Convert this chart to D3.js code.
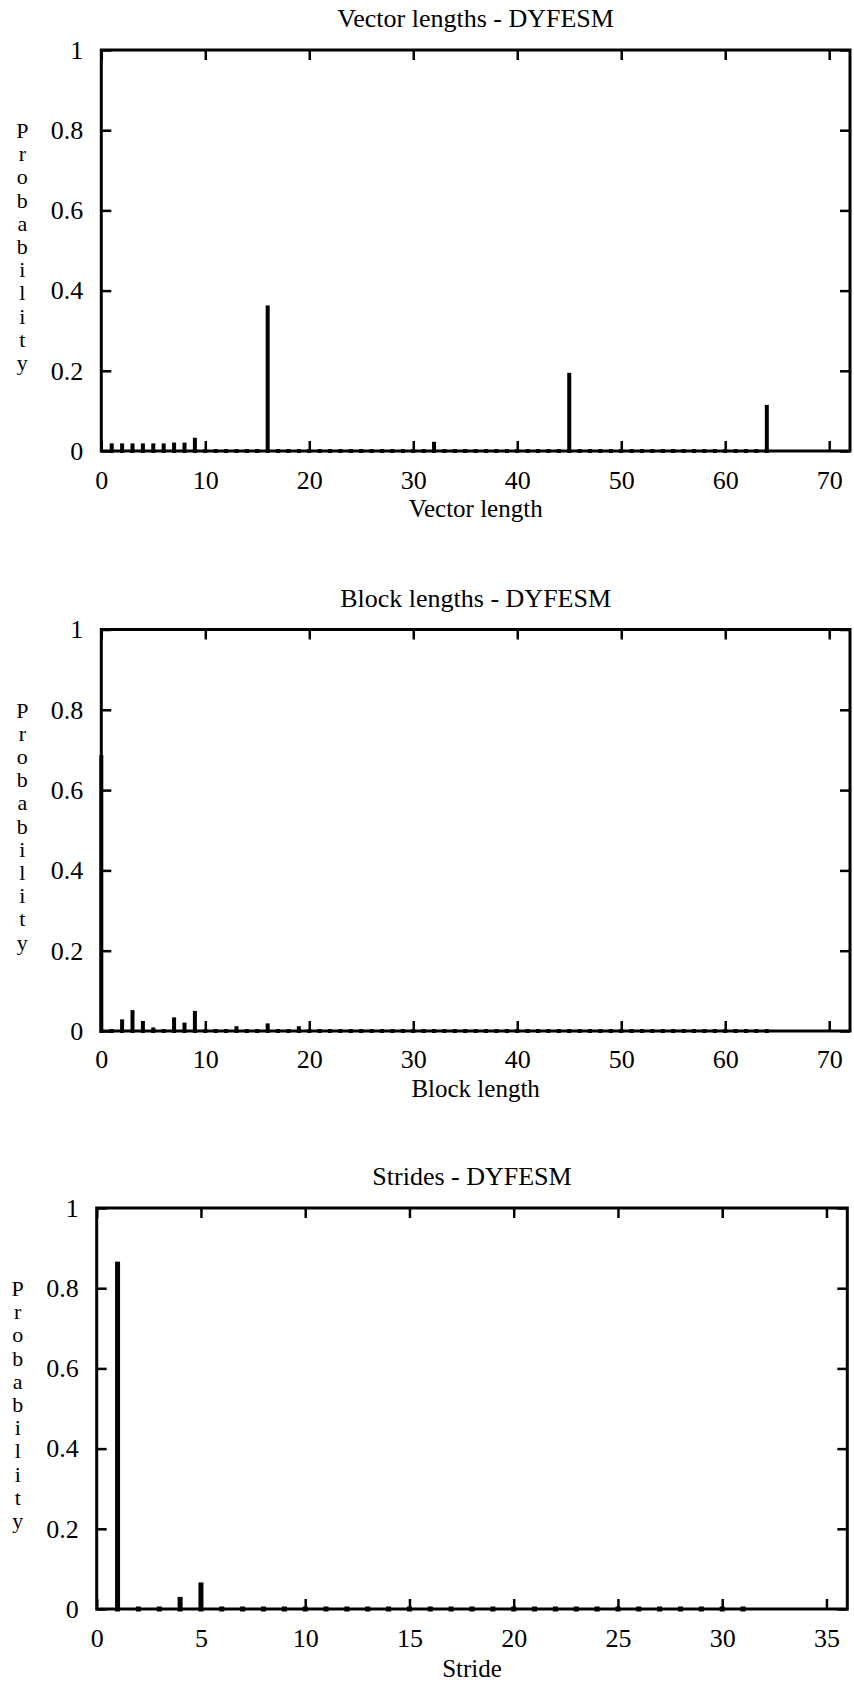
<!DOCTYPE html>
<html>
<head>
<meta charset="utf-8">
<script src="https://cdn.jsdelivr.net/npm/d3@7"></script>
<style>
  body { margin: 0; background: #fff; }
  svg { display: block; }
  text { font-family: 'Liberation Serif', 'Times New Roman', serif; fill: #000; }
</style>
</head>
<body>
<svg id="chart"></svg>
<script>
// vector lengths, x = 1..64
let vecX = d3.range(1, 65)
let vecP = [
  0.014, 0.014, 0.014, 0.014, 0.014, 0.014, 0.016, 0.016, 0.028, 0,
  0, 0, 0, 0, 0, 0.358, 0, 0, 0, 0,
  0, 0, 0, 0, 0, 0, 0, 0, 0, 0,
  0, 0.018, 0, 0, 0, 0, 0, 0, 0, 0,
  0, 0, 0, 0, 0.19, 0, 0, 0, 0, 0,
  0, 0, 0, 0, 0, 0, 0, 0, 0, 0,
  0, 0, 0, 0.11
]

// block lengths, x = 0..64
let blkX = d3.range(0, 65)
let blkP = [
  0.682, 0, 0.024, 0.047, 0.02, 0.004, 0, 0.029, 0.016, 0.045,
  0, 0, 0, 0.007, 0, 0, 0.014, 0, 0, 0.007,
  0, 0, 0, 0, 0, 0, 0, 0, 0, 0,
  0, 0, 0, 0, 0, 0, 0, 0, 0, 0,
  0, 0, 0, 0, 0, 0, 0, 0, 0, 0,
  0, 0, 0, 0, 0, 0, 0, 0, 0, 0,
  0, 0, 0, 0, 0
]

// strides, x = 1..31
let strX = d3.range(1, 32)
let strP = [
  0.86, 0, 0, 0.024, 0.06, 0, 0, 0, 0, 0,
  0, 0, 0, 0, 0, 0, 0, 0, 0, 0,
  0, 0, 0, 0, 0, 0, 0, 0, 0, 0,
  0
]

let yTicks = [0, 0.2, 0.4, 0.6, 0.8, 1]
let lenTicks = [0, 10, 20, 30, 40, 50, 60, 70]
let strTicks = [0, 5, 10, 15, 20, 25, 30, 35]

let panels = [
  { title: 'Vector lengths - DYFESM', xlabel: 'Vector length', xs: vecX, ps: vecP,
    xmax: 72, xticks: lenTicks, left: 101.3, right: 850, top: 50, bottom: 451, bw: 4, tickDy: 38, labelDy: 66 },
  { title: 'Block lengths - DYFESM', xlabel: 'Block length', xs: blkX, ps: blkP,
    xmax: 72, xticks: lenTicks, left: 101.3, right: 850, top: 629.5, bottom: 1031, bw: 4, tickDy: 37, labelDy: 66 },
  { title: 'Strides - DYFESM', xlabel: 'Stride', xs: strX, ps: strP,
    xmax: 36, xticks: strTicks, left: 96.7, right: 847.3, top: 1208, bottom: 1609, bw: 5, tickDy: 38, labelDy: 68 }
]

let svg = d3.select('#chart')
  .attr('width', 854)
  .attr('height', 1685)

svg.append('rect')
  .attr('width', 854)
  .attr('height', 1685)
  .attr('fill', '#fff')

let fs = 26

function drawPanel(p) {
  let x = d3.scaleLinear().domain([0, p.xmax]).range([p.left, p.right])
  let y = d3.scaleLinear().domain([0, 1]).range([p.bottom, p.top])
  let g = svg.append('g')
  let fmt = d => String(d)

  // bars (impulses); zero values still leave a small square
  let cap = p.bw / 2
  g.append('g')
    .selectAll('rect')
    .data(p.xs.map((v, i) => ({ x: v, p: p.ps[i] })))
    .join('rect')
    .attr('x', d => x(d.x) - cap)
    .attr('y', d => y(d.p) - cap)
    .attr('width', p.bw)
    .attr('height', d => y(0) - y(d.p) + 2 * cap)
    .attr('fill', '#000')

  // axes with inward ticks
  let bottomAx = g.append('g')
    .attr('transform', `translate(0,${p.bottom})`)
    .call(d3.axisBottom(x).tickValues(p.xticks).tickFormat(fmt).tickSize(-10).tickSizeOuter(0))
  bottomAx.selectAll('text').attr('y', p.tickDy).attr('dy', null)

  g.append('g')
    .attr('transform', `translate(0,${p.top})`)
    .call(d3.axisTop(x).tickValues(p.xticks).tickFormat('').tickSize(-10).tickSizeOuter(0))

  g.append('g')
    .attr('transform', `translate(${p.left},0)`)
    .call(d3.axisLeft(y).tickValues(yTicks).tickFormat(fmt).tickSize(-10).tickSizeOuter(0).tickPadding(18))

  g.append('g')
    .attr('transform', `translate(${p.right},0)`)
    .call(d3.axisRight(y).tickValues(yTicks).tickFormat('').tickSize(-10).tickSizeOuter(0))

  g.selectAll('.domain').remove()
  g.selectAll('.tick line').attr('stroke', '#000').attr('stroke-width', 2.5)
  g.selectAll('.tick text')
    .style('font-family', "'Liberation Serif', serif")
    .style('font-size', fs + 'px')
    .attr('fill', '#000')

  // frame
  g.append('rect')
    .attr('x', p.left)
    .attr('y', p.top)
    .attr('width', p.right - p.left)
    .attr('height', p.bottom - p.top)
    .attr('fill', 'none')
    .attr('stroke', '#000')
    .attr('stroke-width', 3)

  // title
  g.append('text')
    .attr('x', (p.left + p.right) / 2)
    .attr('y', p.top - 23)
    .attr('text-anchor', 'middle')
    .style('font-size', fs + 'px')
    .text(p.title)

  // x label
  g.append('text')
    .attr('x', (p.left + p.right) / 2)
    .attr('y', p.bottom + p.labelDy)
    .attr('text-anchor', 'middle')
    .style('font-size', '25px')
    .text(p.xlabel)

  // y label, letters stacked
  let letters = 'Probability'.split('')
  g.append('g')
    .selectAll('text')
    .data(letters)
    .join('text')
    .attr('x', p.left - 79)
    .attr('y', (d, i) => p.top + 88 + i * 23.2)
    .attr('text-anchor', 'middle')
    .style('font-size', '22px')
    .text(d => d)
}

panels.forEach(drawPanel)
</script>
</body>
</html>
